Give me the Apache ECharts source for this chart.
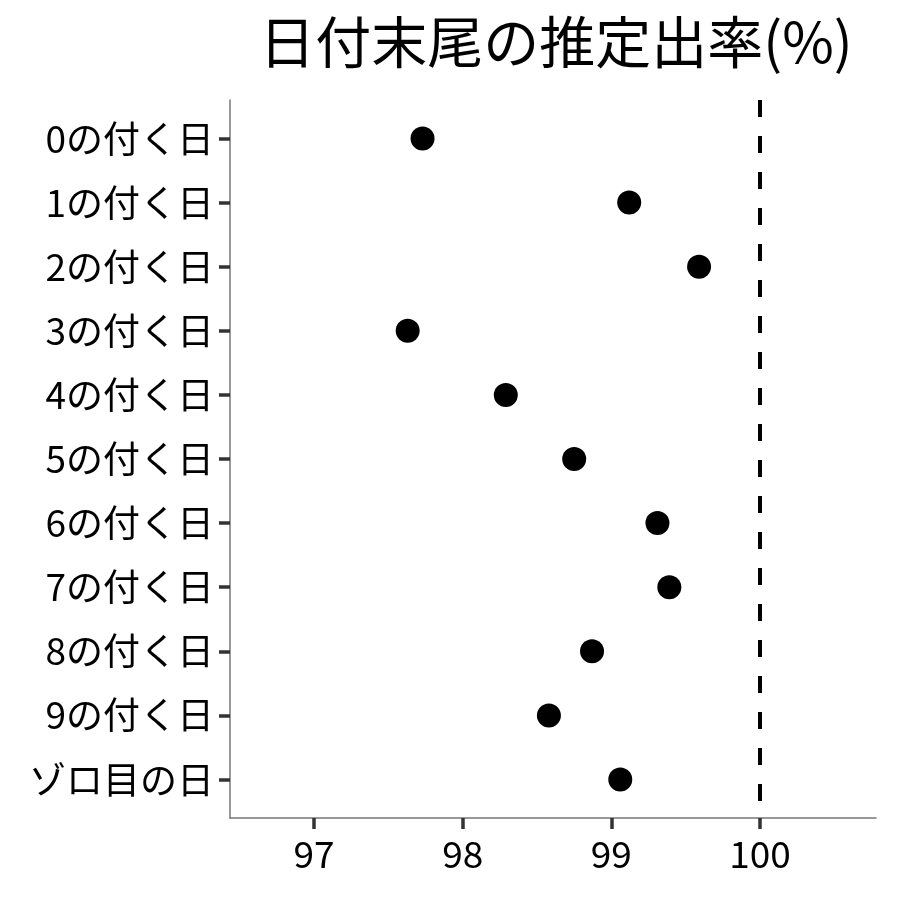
<!DOCTYPE html>
<html>
<head>
<meta charset="utf-8">
<script src="https://cdn.jsdelivr.net/npm/echarts@6/dist/echarts.min.js"></script>
<style>
  html, body { margin: 0; padding: 0; background: #fff; }
  #chart { width: 900px; height: 900px; }
</style>
</head>
<body>
<div id="chart"></div>
<script>
// 日付の末尾カテゴリ
const categories = ['0の付く日', '1の付く日', '2の付く日', '3の付く日', '4の付く日',
  '5の付く日', '6の付く日', '7の付く日', '8の付く日', '9の付く日', 'ゾロ目の日'];
// 推定出率(%)
const rates = [97.73, 99.12, 99.59, 97.63, 98.29, 98.75, 99.31, 99.39, 98.87, 98.58, 99.06];
const xTicks = [97, 98, 99, 100];
const refLine = 100;

const font = '"Noto Sans CJK JP", "Noto Sans", sans-serif';
let chart = echarts.init(document.getElementById('chart'));

let catIdx = categories.map((c, i) => i);

let option = {
  animation: false,
  backgroundColor: '#fff',
  title: {
    text: '日付末尾の推定出率(%)',
    left: 551,
    top: 9,
    textAlign: 'center',
    textStyle: { fontFamily: font, fontSize: 56, fontWeight: 'normal', color: '#000' }
  },
  grid: { left: 230, right: 24, top: 100, bottom: 82 },
  xAxis: {
    type: 'value',
    min: 96.435,
    max: 100.78,
    axisLine: { show: true, onZero: false, lineStyle: { color: '#777', width: 1.5 } },
    axisTick: { show: true, length: 11, customValues: xTicks, lineStyle: { color: '#333', width: 3.5 } },
    splitLine: { show: false },
    axisLabel: {
      customValues: xTicks,
      margin: 17,
      fontFamily: font,
      fontSize: 37,
      color: '#000'
    }
  },
  yAxis: {
    type: 'value',
    inverse: true,
    min: -0.6,
    max: 10.6,
    axisLine: { show: true, onZero: false, lineStyle: { color: '#777', width: 1.5 } },
    axisTick: { show: true, length: 11, customValues: catIdx, lineStyle: { color: '#333', width: 3.5 } },
    splitLine: { show: false },
    axisLabel: {
      customValues: catIdx,
      formatter: function (v) { return categories[Math.round(v)]; },
      margin: 16,
      fontFamily: font,
      fontSize: 37,
      color: '#000'
    }
  },
  series: [{
    type: 'scatter',
    symbol: 'circle',
    symbolSize: 24,
    itemStyle: { color: '#000', opacity: 1 },
    data: rates.map((r, i) => [r, i]),
    markLine: {
      silent: true,
      symbol: 'none',
      label: { show: false },
      lineStyle: { color: '#000', width: 4, type: [17, 19] },
      data: [{ xAxis: refLine }]
    }
  }]
};

chart.setOption(option);
</script>
</body>
</html>
